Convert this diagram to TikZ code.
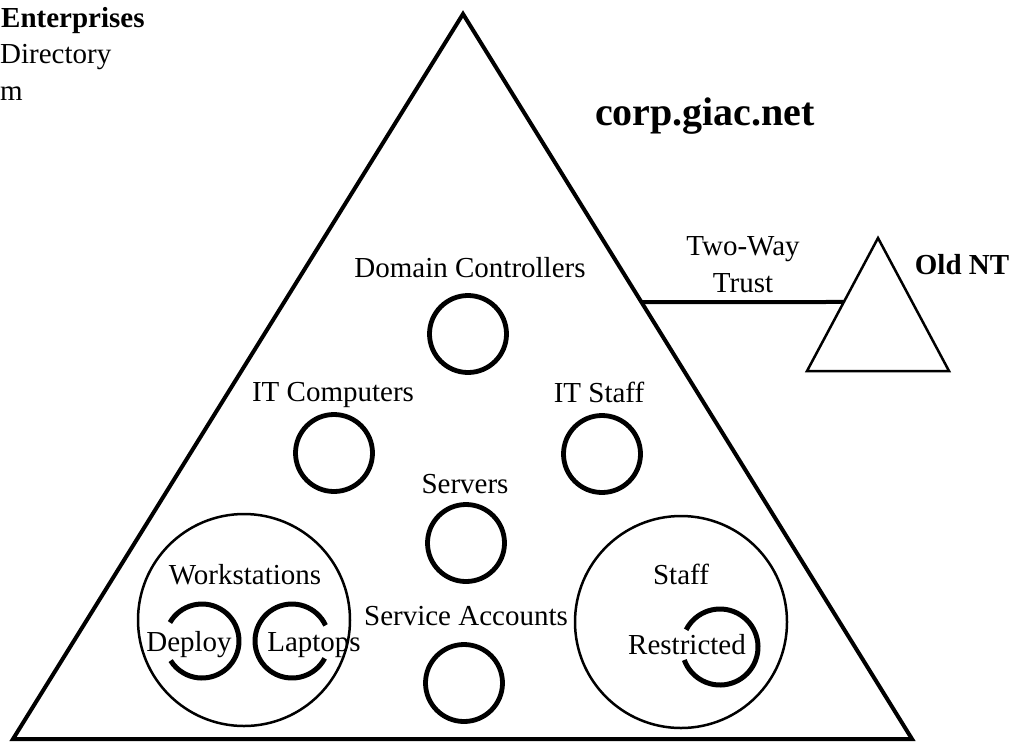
\documentclass[tikz,border=0pt]{standalone}
\usepackage{fontspec}
\setmainfont{Liberation Serif}
\usetikzlibrary{positioning, calc}

\begin{document}
\begin{tikzpicture}[x=1pt, y=-1pt, node distance=4pt and 4pt]
            \tikzstyle{lbl} = [font=\fontsize{29}{34}\selectfont, inner sep=0pt, anchor=base]
            \tikzstyle{boldlbl} = [lbl, font=\fontsize{29}{34}\selectfont\bfseries]
            \tikzstyle{ou} = [circle, draw, line width=4.8pt, minimum size=77pt, inner sep=0pt]
            \tikzstyle{group} = [circle, draw, line width=2.5pt, minimum size=212pt, inner sep=0pt]
            \tikzstyle{subou} = [draw, line width=5pt]
            \tikzstyle{line} = [draw, line width=4pt]

            \useasboundingbox (0,0) rectangle (1016,742);

            % domains
            \coordinate (apex) at (463,14);
            \coordinate (baseL) at (13,739);
            \coordinate (baseR) at (912,739);
            \draw [line width=4pt] (apex) -- (baseR) -- (baseL) -- cycle;
            \coordinate (ntTop) at (878,238);
            \coordinate (ntL) at (807,371);
            \coordinate (ntR) at (949,371);
            \draw [line width=2.5pt] (ntTop) -- (ntR) -- (ntL) -- cycle;

            % trust
            \coordinate (trustL) at ($(apex)!0.3975!(baseR)$);
            \coordinate (trustR) at ($(ntTop)!0.481!(ntL)$);
            \path [line] (trustL) -- (trustR);
            \node [lbl] (trust) at (743,292) {Trust};
            \node [lbl] (twoway) at (743,255) {Two-Way};
            \node [boldlbl] (oldnt) at (962,274) {Old NT};

            % titles
            \node [lbl, font=\fontsize{40}{46}\selectfont\bfseries] (corp) at (705,125) {corp.giac.net};
            \node [boldlbl, anchor=base west] (ent) at (1,27) {Enterprises};
            \node [lbl, anchor=base west] (dir) at (0,63) {Directory};
            \node [lbl, anchor=base west] (m) at (0,100) {m};

            % organizational units
            \node [ou] (dc) at (468,334) {};
            \node [lbl] (dclbl) at (470,277) {Domain Controllers};
            \node [ou] (itc) at (334,453) {};
            \node [lbl] (itclbl) at (333,401) {IT Computers};
            \node [ou] (its) at (602,454) {};
            \node [lbl] (itslbl) at (599,402) {IT Staff};
            \node [ou] (srv) at (466,543) {};
            \node [lbl] (srvlbl) at (465,493) {Servers};
            \node [ou] (svc) at (464,683) {};
            \node [lbl] (svclbl) at (466,625) {Service Accounts};

            % workstations
            \node [group] (ws) at (244,620) {};
            \node [lbl] (wslbl) at (245,584) {Workstations};
            \coordinate (deploy) at (202,641);
            \draw [subou] (deploy) ++(-150:37) arc [start angle=-150, end angle=148, radius=37];
            \node [lbl] (deploylbl) at (189,651) {Deploy};
            \coordinate (laptops) at (292,641);
            \draw [subou] (laptops) ++(-25:37) arc [start angle=-25, end angle=-332, radius=37];
            \node [lbl] (laptopslbl) at (314,651) {Laptops};

            % staff
            \node [group] (staff) at (681,622) {};
            \node [lbl] (stafflbl) at (681,584) {Staff};
            \coordinate (restr) at (720,647);
            \draw [subou] (restr) ++(-153:38) arc [start angle=-153, end angle=160, radius=38];
            \node [lbl] (restrlbl) at (687,654) {Restricted};
        \end{tikzpicture}
\end{document}
